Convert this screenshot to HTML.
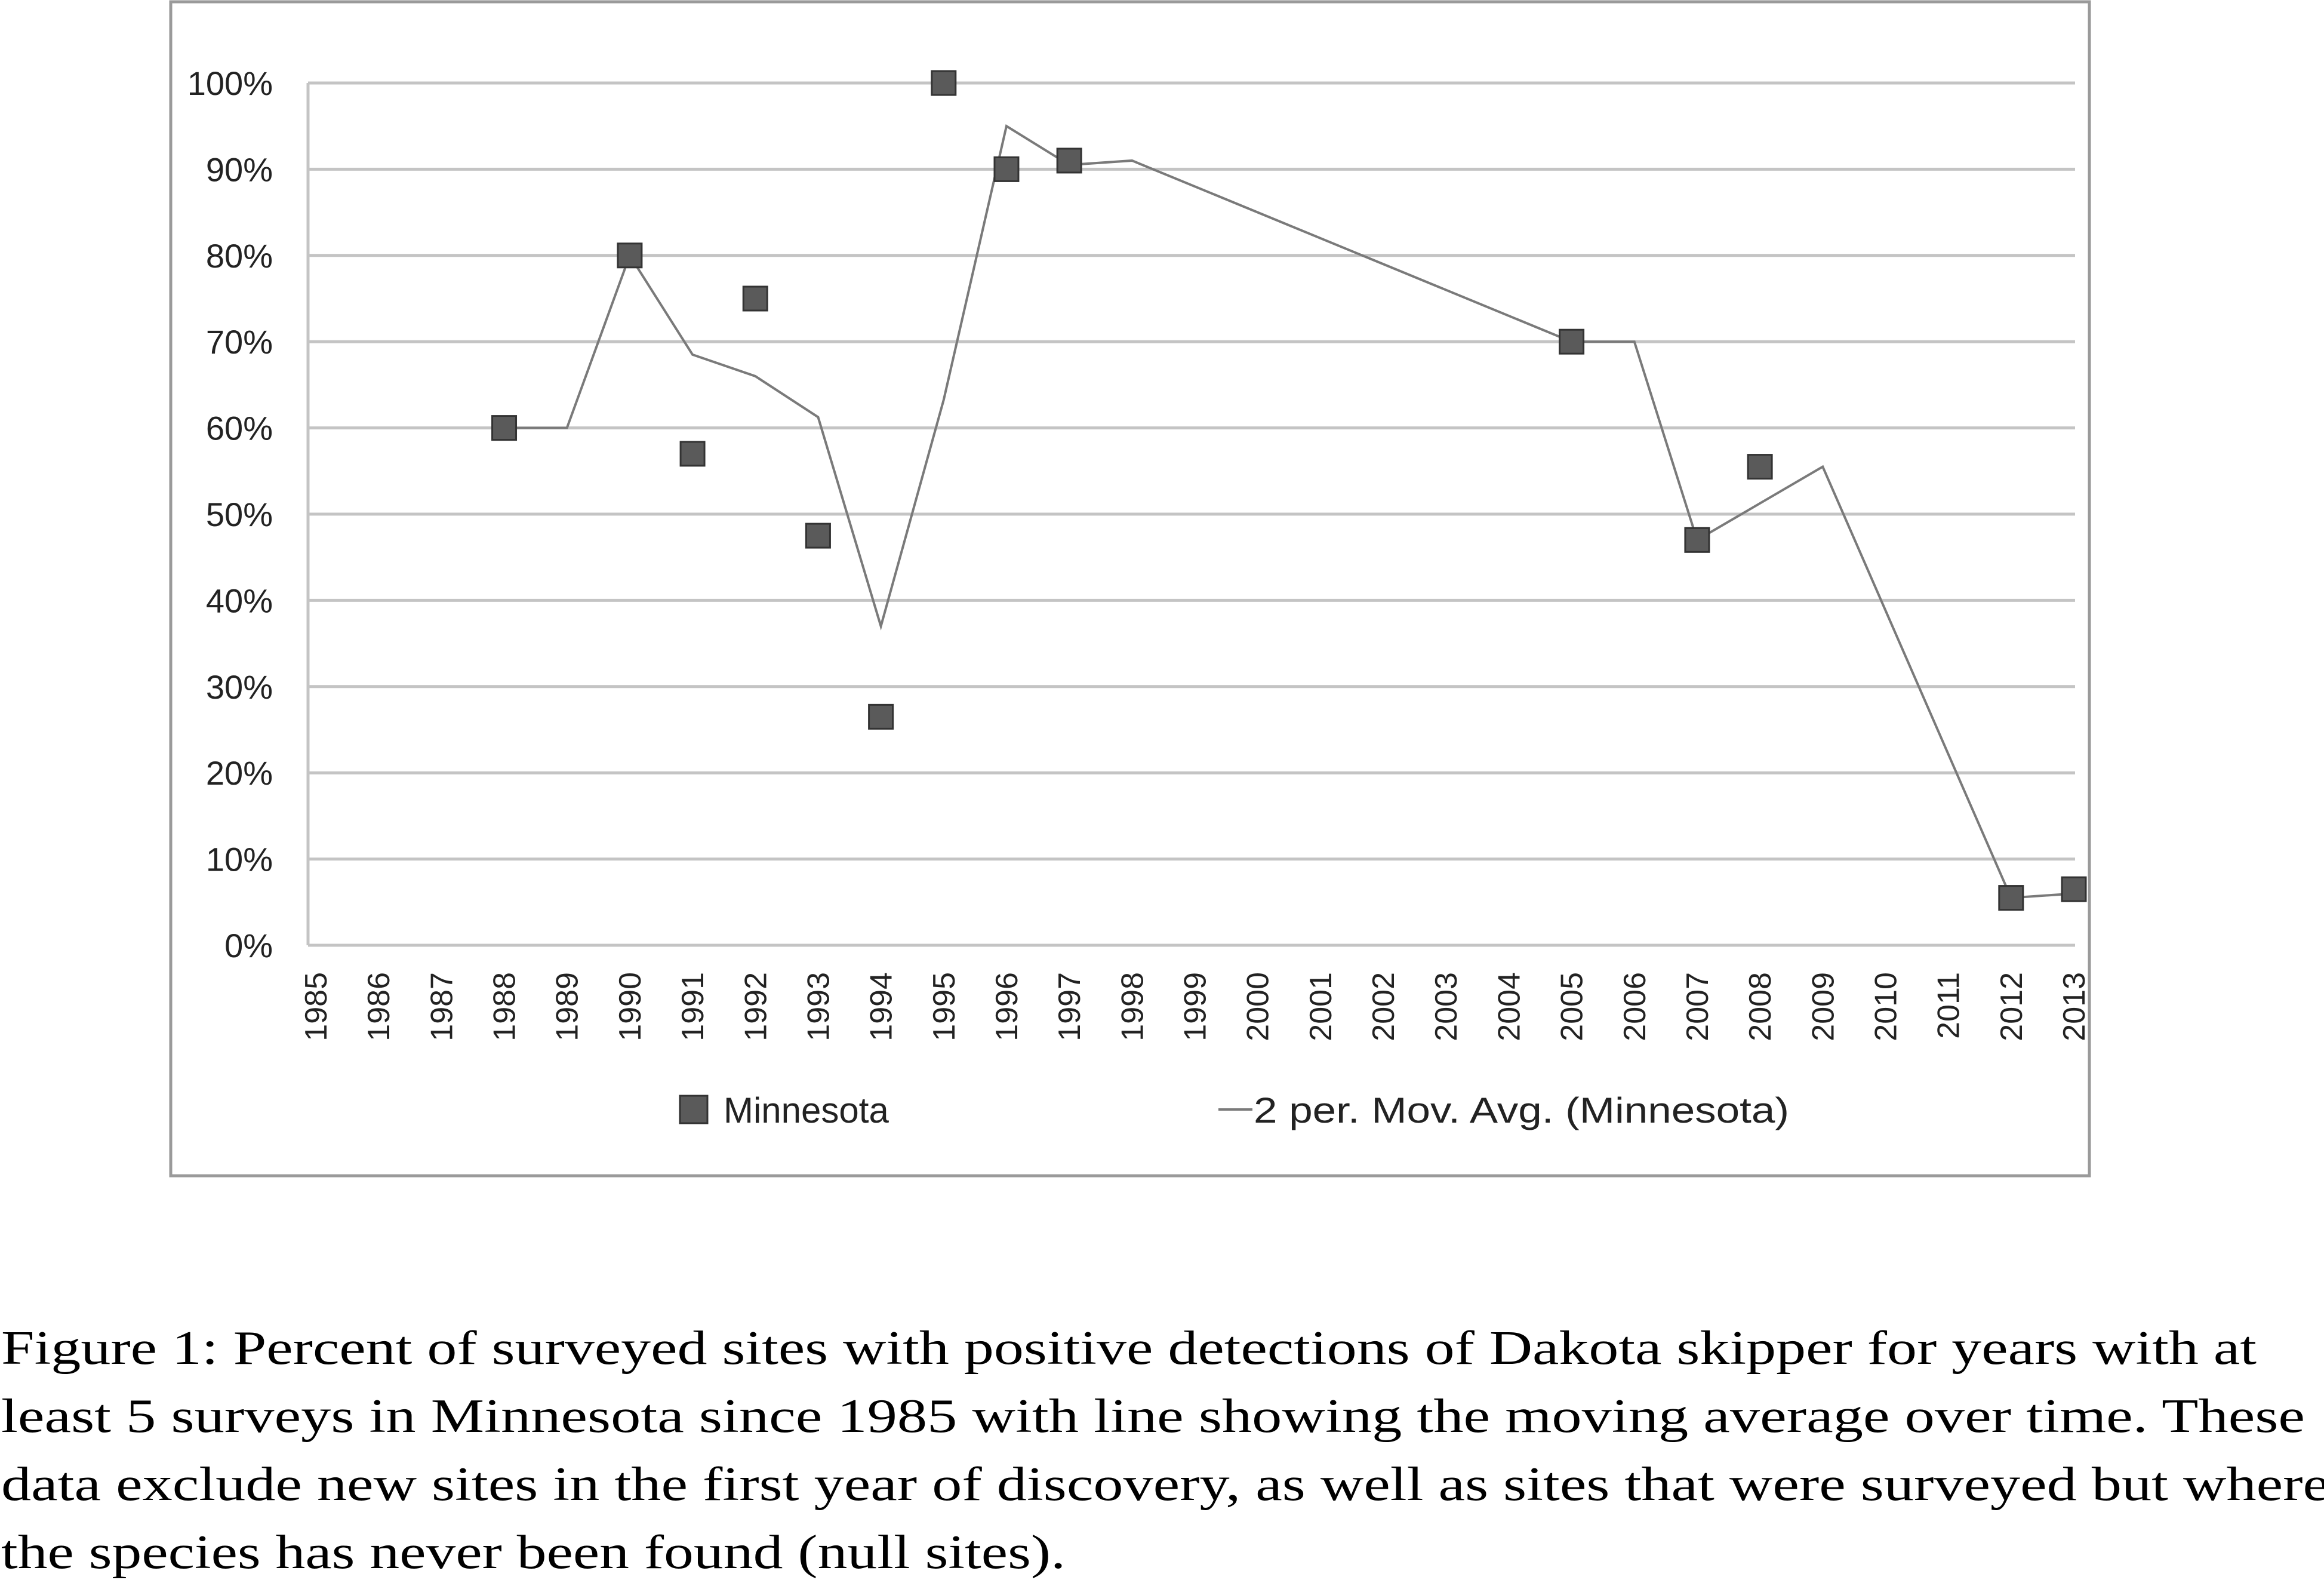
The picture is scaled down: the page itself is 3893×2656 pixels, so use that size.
<!DOCTYPE html>
<html><head><meta charset="utf-8"><style>
html,body{margin:0;padding:0;background:#fff;}
svg{display:block;}
</style></head><body>
<svg id="chart" width="3893" height="2656" viewBox="0 0 3893 2656" xmlns="http://www.w3.org/2000/svg">
<rect x="286" y="3" width="3214" height="1966" fill="#fff" stroke="#9a9a9a" stroke-width="5"/>
<g id="grid"></g>
<g id="yticks"></g>
<g id="xticks"></g>
<polyline id="mavg" fill="none" stroke="#7a7a7a" stroke-width="4"/>
<g id="pts"></g>
<g>
<rect x="1139" y="1835" width="46" height="46" fill="#5a5a5a" stroke="#333" stroke-width="3"/>
<text x="1212" y="1880" font-family="Liberation Sans, sans-serif" font-size="60" fill="#222">Minnesota</text>
<line x1="2041" y1="1858" x2="2098" y2="1858" stroke="#7a7a7a" stroke-width="4"/>
<text x="2100" y="1880" font-family="Liberation Sans, sans-serif" font-size="60" fill="#222" textLength="897" lengthAdjust="spacingAndGlyphs">2 per. Mov. Avg. (Minnesota)</text>
</g>
<g font-family="Liberation Serif, serif" font-size="80" fill="#000">
<text x="2" y="2284" textLength="3778" lengthAdjust="spacingAndGlyphs">Figure 1: Percent of surveyed sites with positive detections of Dakota skipper for years with at</text>
<text x="2" y="2398" textLength="3859" lengthAdjust="spacingAndGlyphs">least 5 surveys in Minnesota since 1985 with line showing the moving average over time.  These</text>
<text x="2" y="2512" textLength="3900" lengthAdjust="spacingAndGlyphs">data exclude new sites in the first year of discovery, as well as sites that were surveyed but where</text>
<text x="2" y="2626" textLength="1783" lengthAdjust="spacingAndGlyphs">the species has never been found (null sites).</text>
</g>
</svg>
<script>
const years = [1985,1986,1987,1988,1989,1990,1991,1992,1993,1994,1995,1996,1997,1998,1999,2000,2001,2002,2003,2004,2005,2006,2007,2008,2009,2010,2011,2012,2013];
const yTicks = [0,10,20,30,40,50,60,70,80,90,100];
const yTickLabels = ["0%","10%","20%","30%","40%","50%","60%","70%","80%","90%","100%"];
const obsYears = [1988,1990,1991,1992,1993,1994,1995,1996,1997,2005,2007,2008,2012,2013];
const obsValues = [60,80,57,75,47.5,26.5,100,90,91,70,47,55.5,5.5,6.5];
const avgYears = [1988,1989,1990,1991,1992,1993,1994,1995,1996,1997,1998,2005,2006,2007,2008,2009,2012,2013];
const avgValues = [60,60,80,68.5,66,61.25,37,63.25,95,90.5,91,70,70,47,51.25,55.5,5.5,6];

const NS="http://www.w3.org/2000/svg";
const X0=529, X1=3474, Y0=1583, Y100=139, PL=516;
function xs(yr){return X0+(yr-years[0])*(X1-X0)/(years[years.length-1]-years[0]);}
function ys(v){return Y0+(Y100-Y0)*v/100;}
function mk(tag,attrs,parent){const e=document.createElementNS(NS,tag);for(const k in attrs)e.setAttribute(k,attrs[k]);parent.appendChild(e);return e;}

const grid=document.getElementById('grid');
const yt=document.getElementById('yticks');
yTicks.forEach((t,i)=>{
  const l=mk('line',{x1:PL,x2:3476,y1:ys(t),y2:ys(t),stroke:'#c4c4c4','stroke-width':5},grid);
  
  
  const tx=mk('text',{x:457,y:ys(t)+20,'text-anchor':'end','font-family':'Liberation Sans, sans-serif','font-size':56,fill:'#222'},yt);
  tx.textContent=yTickLabels[i];
  
  
});
const ax=mk('line',{x1:PL,x2:PL,y1:Y100,y2:Y0,stroke:'#c4c4c4','stroke-width':5},grid);



const xt=document.getElementById('xticks');
years.forEach(yr=>{
  const x=xs(yr)+18;
  const tx=mk('text',{x:x,y:1628,'text-anchor':'end','font-family':'Liberation Sans, sans-serif','font-size':52,fill:'#222',transform:'rotate(-90 '+x+' 1628)'},xt);
  tx.textContent=yr;
  
  
});

document.getElementById('mavg').setAttribute('points',avgYears.map((yr,i)=>xs(yr)+','+ys(avgValues[i])).join(' '));

const pts=document.getElementById('pts');
obsYears.forEach((yr,i)=>{
  const r=mk('rect',{x:xs(yr)-20,y:ys(obsValues[i])-20,width:40,height:40,fill:'#5a5a5a',stroke:'#333','stroke-width':3},pts);
  
  
});
</script>
</body></html>
